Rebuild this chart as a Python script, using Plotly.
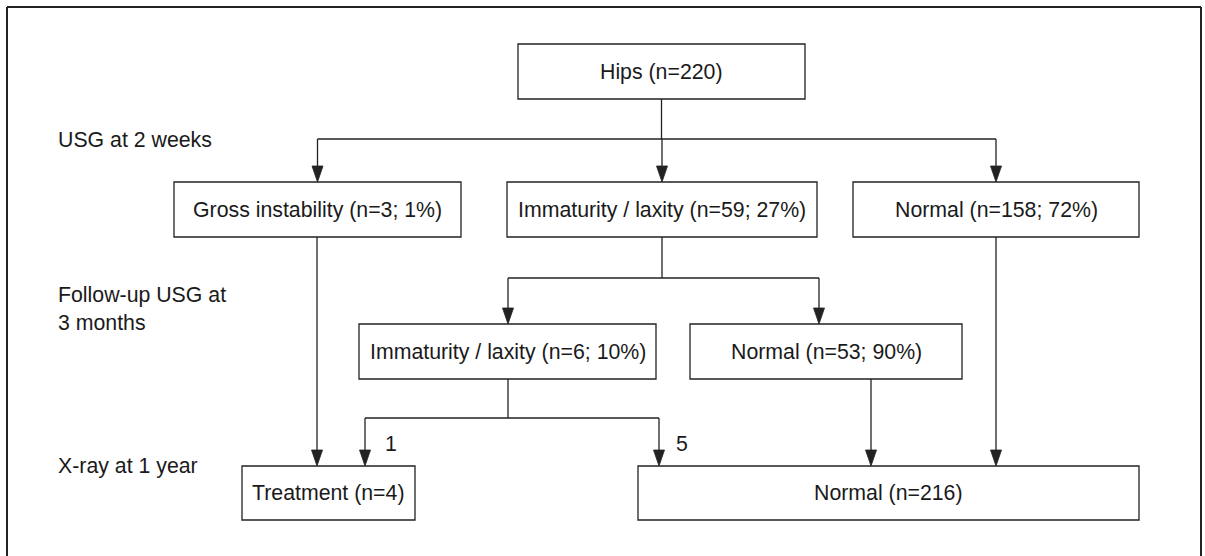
import plotly.graph_objects as go

# ---------------- data ----------------
node_labels = ["Hips", "Gross instability", "Immaturity / laxity", "Normal",
               "Immaturity / laxity", "Normal", "Treatment", "Normal"]
node_n = [220, 3, 59, 158, 6, 53, 4, 216]
node_pct = [None, 1, 27, 72, 10, 90, None, None]
stage_labels = ["USG at 2 weeks", "Follow-up USG at<br>3 months", "X-ray at 1 year"]
branch_counts = [1, 5]   # immaturity at 3 months -> treatment / normal

# ---------------- layout geometry (pixels, y downwards) ----------------
W, H = 1205, 556
boxes = [  # x0, x1, y0, y1
    (518, 805, 44, 99),
    (174, 461, 182, 237),
    (507, 817, 182, 237),
    (853, 1139, 182, 237),
    (359, 656, 324, 379),
    (690, 962, 324, 379),
    (242, 415, 466, 520),
    (638, 1139, 466, 520),
]
stage_pos = [(56, 140), (56, 309), (56, 466)]
count_pos = [(391, 444), (682, 444)]

LINE = "#222222"
TXT = "#1a1a1a"
FONT = "Liberation Sans, Arial, Helvetica, sans-serif"
FS = 21.3

fig = go.Figure()
shapes = []
annotations = []


def seg(x0, y0, x1, y1, w=1.3):
    shapes.append(dict(type="line", xref="x", yref="y", x0=x0, y0=y0, x1=x1, y1=y1,
                       line=dict(color=LINE, width=w)))


def arrow(x, y0, y1):
    ah, hw = 16, 5.5
    seg(x, y0, x, y1 - ah + 1)
    shapes.append(dict(type="path", xref="x", yref="y",
                       path=f"M {x-hw},{y1-ah} L {x+hw},{y1-ah} L {x},{y1} Z",
                       fillcolor=LINE, line=dict(color=LINE, width=0.8)))


# outer frame
seg(7, 7, 1201, 7, 2)
seg(7, 7, 7, H + 5, 2)
seg(1201, 7, 1201, H + 5, 2)

# boxes + labels
for (x0, x1, y0, y1), lab, n, p in zip(boxes, node_labels, node_n, node_pct):
    shapes.append(dict(type="rect", xref="x", yref="y", x0=x0, x1=x1, y0=y0, y1=y1,
                       line=dict(color=LINE, width=1.3), fillcolor="white", layer="above"))
    txt = f"{lab} (n={n})" if p is None else f"{lab} (n={n}; {p}%)"
    annotations.append(dict(x=(x0 + x1) / 2, y=(y0 + y1) / 2, xref="x", yref="y",
                            text=txt, showarrow=False, xanchor="center", yanchor="middle",
                            font=dict(family=FONT, size=FS, color=TXT)))


def cx(i):
    return (boxes[i][0] + boxes[i][1]) / 2


# connectors
seg(cx(0), boxes[0][3], cx(0), 139)
seg(cx(1), 139, cx(3), 139)
for i in (1, 2, 3):
    arrow(cx(i), 139, boxes[i][2])

seg(cx(2), boxes[2][3], cx(2), 278)
seg(508, 278, 819, 278)
arrow(508, 278, boxes[4][2])
arrow(819, 278, boxes[5][2])

arrow(317, boxes[1][3], boxes[6][2])

seg(508, boxes[4][3], 508, 418)
seg(365, 418, 659, 418)
arrow(365, 418, boxes[6][2])
arrow(659, 418, boxes[7][2])

arrow(871, boxes[5][3], boxes[7][2])
arrow(cx(3), boxes[3][3], boxes[7][2])

# stage labels
for (x, y), t in zip(stage_pos, stage_labels):
    annotations.append(dict(x=x, y=y, xref="x", yref="y", text=t, showarrow=False,
                            xanchor="left", yanchor="middle", align="left",
                            font=dict(family=FONT, size=FS, color=TXT)))
for (x, y), c in zip(count_pos, branch_counts):
    annotations.append(dict(x=x, y=y, xref="x", yref="y", text=str(c), showarrow=False,
                            xanchor="center", yanchor="middle",
                            font=dict(family=FONT, size=FS, color=TXT)))

fig.update_layout(
    width=W, height=H,
    margin=dict(l=0, r=0, t=0, b=0),
    paper_bgcolor="white", plot_bgcolor="white",
    xaxis=dict(range=[0, W], visible=False, fixedrange=True),
    yaxis=dict(range=[H, 0], visible=False, fixedrange=True),
    shapes=shapes, annotations=annotations, showlegend=False,
)
fig.write_html("out.html", config={"displayModeBar": False},
               post_script="document.body.style.margin='0';document.body.style.overflow='hidden';")
